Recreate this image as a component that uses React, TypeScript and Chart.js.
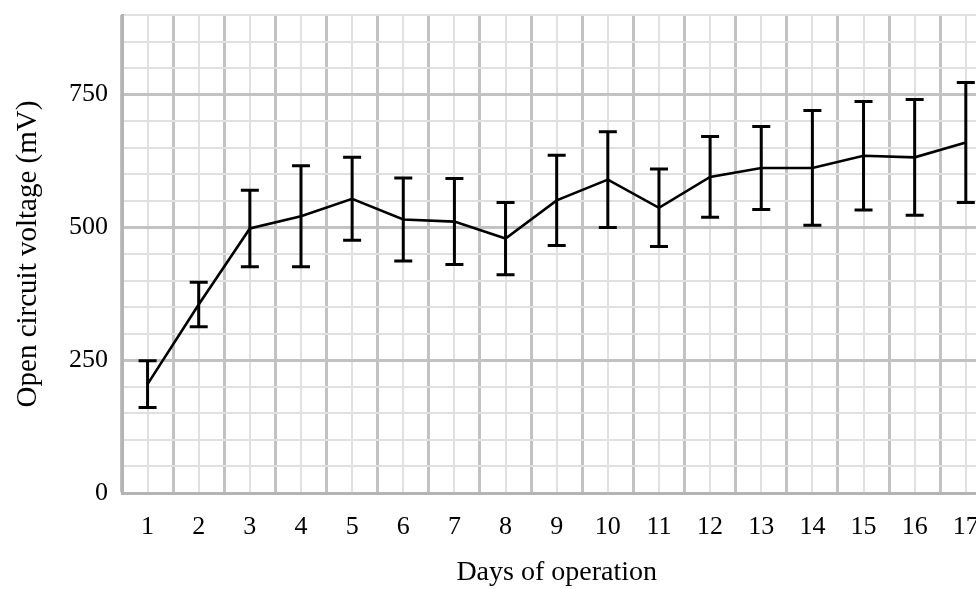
import React, { useEffect, useRef } from "react";
import { Chart, registerables } from "chart.js";

Chart.register(...registerables);

const days = ["1", "2", "3", "4", "5", "6", "7", "8", "9", "10", "11", "12", "13", "14", "15", "16", "17"];
const meanVoltage = [205, 355, 498, 521, 554, 515, 511, 479, 551, 590, 537, 595, 612, 612, 635, 632, 660];
const errorVoltage = [44, 42, 72, 95, 78, 78, 81, 68, 85, 90, 73, 76, 78, 108, 102, 109, 113];
const yMajorStep = 250;
const yMinorStep = 50;
const yMax = 900;

const FONT = "'Liberation Serif', 'Times New Roman', serif";
const MAJOR = "#c2c2c2";
const MINOR = "#e0e0e0";

const errorBarPlugin = {
  id: "errorBars",
  afterDatasetsDraw(chart: any) {
    const xs = chart.scales.x;
    const ys = chart.scales.y;
    const ctx = chart.ctx;
    ctx.save();
    ctx.strokeStyle = "#000";
    ctx.lineWidth = 3;
    ctx.lineCap = "butt";
    const cap = 9;
    meanVoltage.forEach((m, i) => {
      const x = xs.getPixelForValue(i);
      const yT = ys.getPixelForValue(m + errorVoltage[i]);
      const yB = ys.getPixelForValue(m - errorVoltage[i]);
      ctx.beginPath();
      ctx.moveTo(x, yT);
      ctx.lineTo(x, yB);
      ctx.moveTo(x - cap, yT);
      ctx.lineTo(x + cap, yT);
      ctx.moveTo(x - cap, yB);
      ctx.lineTo(x + cap, yB);
      ctx.stroke();
    });
    ctx.restore();
  },
};

export default function App() {
  const ref = useRef<HTMLCanvasElement | null>(null);
  useEffect(() => {
    if (!ref.current) return;
    const chart = new Chart(ref.current, {
      type: "line",
      data: {
        labels: days,
        datasets: [
          {
            data: meanVoltage,
            borderColor: "#000",
            borderWidth: 2.6,
            pointRadius: 0,
            tension: 0,
            fill: false,
          },
        ],
      },
      options: {
        animation: false,
        responsive: true,
        maintainAspectRatio: false,
        layout: { padding: { left: 7, top: 15, right: 0, bottom: 0 } },
        plugins: { legend: { display: false }, tooltip: { enabled: false } },
        scales: {
          x: {
            type: "category",
            position: "bottom",
            offset: true,
            grid: { offset: true, color: MAJOR, lineWidth: 3, drawTicks: false },
            border: { display: true, color: "#b4b4b4", width: 3 },
            ticks: { color: "#000", font: { family: FONT, size: 26 }, padding: 19, maxRotation: 0, autoSkip: false },
            title: {
              display: true,
              text: "Days of operation",
              color: "#000",
              font: { family: FONT, size: 28 },
              padding: { top: 10, bottom: 0 },
            },
            afterFit: (s: any) => {
              s.height = 96;
            },
          },
          x2: {
            type: "category",
            position: "top",
            offset: true,
            grid: { offset: false, color: MINOR, lineWidth: 2, drawTicks: false },
            border: { display: false },
            ticks: { display: false },
            afterFit: (s: any) => {
              s.height = 0;
              s.paddingLeft = 0;
              s.paddingRight = 0;
            },
          },
          y: {
            min: 0,
            max: yMax,
            grid: {
              drawTicks: false,
              color: (c: any) => (c.tick && c.tick.value % yMajorStep === 0 ? MAJOR : MINOR),
              lineWidth: (c: any) => (c.tick && c.tick.value % yMajorStep === 0 ? 3 : 2),
            },
            border: { display: true, color: "#b4b4b4", width: 3 },
            ticks: {
              stepSize: yMinorStep,
              autoSkip: false,
              color: "#000",
              font: { family: FONT, size: 26 },
              padding: 14,
              callback: (v: any) => (Number(v) % yMajorStep === 0 ? String(v) : ""),
            },
            title: {
              display: true,
              text: "Open circuit voltage (mV)",
              color: "#000",
              font: { family: FONT, size: 29 },
              padding: { top: 4, bottom: 4 },
            },
            afterFit: (s: any) => {
              s.width = 115;
              s.paddingTop = 0;
              s.paddingBottom = 0;
            },
          },
        },
      },
      plugins: [errorBarPlugin],
    });
    return () => chart.destroy();
  }, []);
  return (
    <div style={{ position: "fixed", left: 0, top: 0, width: 976, height: 589, overflow: "hidden", background: "#fff" }}>
      <div style={{ position: "relative", width: 998, height: 589 }}>
        <canvas ref={ref} />
      </div>
    </div>
  );
}
